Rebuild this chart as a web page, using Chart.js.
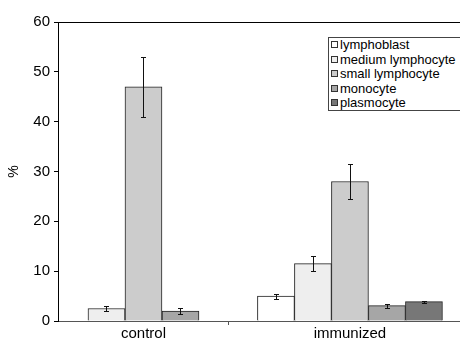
<!DOCTYPE html>
<html lang="en">
<head>
  <meta charset="UTF-8">
  <title>Cell types - control vs immunized</title>
  <script src="https://cdn.jsdelivr.net/npm/chart.js"></script>
  <style>
    body {
      margin: 0;
      background: #fff;
      font-family: 'Liberation Sans', Arial, sans-serif;
    }
    .wrap {
      position: relative;
      width: 460px;
      height: 341px;
    }
    .legend {
      position: absolute;
      left: 328px;
      top: 37px;
      width: 129px;
      height: 72px;
      border: 1px solid #444;
      background: #fff;
      padding: 0 0 0 2px;
      font-size: 13px;
      color: #000;
    }
    .legend div {
      height: 14.5px;
      line-height: 14.5px;
      white-space: nowrap;
    }
    .legend span {
      display: inline-block;
      width: 5px;
      height: 5px;
      border: 1px solid #333;
      margin-right: 2px;
      vertical-align: 1px;
    }
  </style>
</head>
<body>
<div class="wrap">
  <canvas id="chart" width="460" height="341"></canvas>
  <div class="legend" id="legend"></div>
</div>

<script>
  // categories and series
  const groups = ['control', 'immunized'];
  const series = ['lymphoblast', 'medium lymphocyte', 'small lymphocyte', 'monocyte', 'plasmocyte'];
  const colors = ['#ffffff', '#eeeeee', '#cccccc', '#a6a6a6', '#777777'];

  const lymphoblast = [null, 5.0];
  const mediumLymphocyte = [2.5, 11.5];
  const smallLymphocyte = [47.0, 28.0];
  const monocyte = [2.0, 3.1];
  const plasmocyte = [null, 3.9];

  const lymphoblastErr = [null, 0.5];
  const mediumLymphocyteErr = [0.45, 1.5];
  const smallLymphocyteErr = [6.0, 3.6];
  const monocyteErr = [0.55, 0.4];
  const plasmocyteErr = [null, 0.2];

  const yTicks = [0, 10, 20, 30, 40, 50, 60];

  const values = [lymphoblast, mediumLymphocyte, smallLymphocyte, monocyte, plasmocyte];
  const errors = [lymphoblastErr, mediumLymphocyteErr, smallLymphocyteErr, monocyteErr, plasmocyteErr];

  // group i sits at x = i on a linear axis; the divider tick sits between them
  const dividerAt = 0.41;

  const datasets = series.map((name, i) => ({
    label: name,
    data: values[i].map((v, j) => ({ x: j, y: v })),
    backgroundColor: colors[i],
    borderColor: '#222',
    borderWidth: 1,
    barThickness: 37
  }));

  // html legend
  document.getElementById('legend').innerHTML = series.map((name, i) =>
    `<div><span style="background:${colors[i]}"></span>${name}</div>`).join('');

  const errorBars = {
    id: 'errorBars',
    afterDatasetsDraw(chart) {
      const ctx = chart.ctx;
      const y = chart.scales.y;
      ctx.save();
      ctx.strokeStyle = '#111';
      ctx.lineWidth = 1;
      chart.data.datasets.forEach((ds, i) => {
        const meta = chart.getDatasetMeta(i);
        meta.data.forEach((bar, j) => {
          const v = values[i][j];
          const e = errors[i][j];
          if (v === null || e === null) return;
          const x = Math.round(bar.x) + 0.5;
          const top = Math.round(y.getPixelForValue(v + e)) + 0.5;
          const bot = Math.round(y.getPixelForValue(v - e)) + 0.5;
          ctx.beginPath();
          ctx.moveTo(x, top); ctx.lineTo(x, bot);
          ctx.moveTo(x - 2.5, top); ctx.lineTo(x + 2.5, top);
          ctx.moveTo(x - 2.5, bot); ctx.lineTo(x + 2.5, bot);
          ctx.stroke();
        });
      });
      ctx.restore();
    }
  };

  new Chart(document.getElementById('chart'), {
    type: 'bar',
    data: { datasets: datasets },
    plugins: [errorBars],
    options: {
      responsive: false,
      animation: false,
      layout: { padding: { top: 22, right: 0, left: 0, bottom: 0 } },
      plugins: {
        legend: { display: false },
        tooltip: { enabled: false }
      },
      scales: {
        x: {
          type: 'linear',
          min: -0.414,
          max: 1.533,
          offset: false,
          afterFit(scale) { scale.height = 20; },
          afterBuildTicks(scale) {
            scale.ticks = [{ value: 0 }, { value: dividerAt }, { value: 1 }];
          },
          ticks: {
            color: '#000',
            font: { family: "'Liberation Sans', Arial, sans-serif", size: 15 },
            padding: 0,
            maxRotation: 0,
            autoSkip: false,
            callback: v => v === 0 ? groups[0] : (v === 1 ? groups[1] : '')
          },
          grid: {
            offset: false,
            drawOnChartArea: false,
            tickLength: 4,
            tickColor: c => (c.tick && c.tick.value === dividerAt) ? '#555' : 'rgba(0,0,0,0)'
          },
          border: { color: '#555', width: 1 }
        },
        y: {
          min: 0,
          max: 60,
          afterFit(scale) { scale.width = 58; },
          afterBuildTicks(scale) {
            scale.ticks = yTicks.map(v => ({ value: v }));
          },
          ticks: {
            color: '#000',
            font: { family: "'Liberation Sans', Arial, sans-serif", size: 15 },
            padding: 4
          },
          grid: {
            drawOnChartArea: true,
            tickLength: 4,
            tickColor: '#000',
            color: c => (c.tick && c.tick.value === 60) ? '#000' : 'rgba(0,0,0,0)'
          },
          border: { color: '#000', width: 1 },
          title: {
            display: true,
            text: '%',
            color: '#000',
            font: { family: "'Liberation Sans', Arial, sans-serif", size: 14 },
            padding: { top: 6, bottom: 0 }
          }
        }
      }
    }
  });
</script>
</body>
</html>
